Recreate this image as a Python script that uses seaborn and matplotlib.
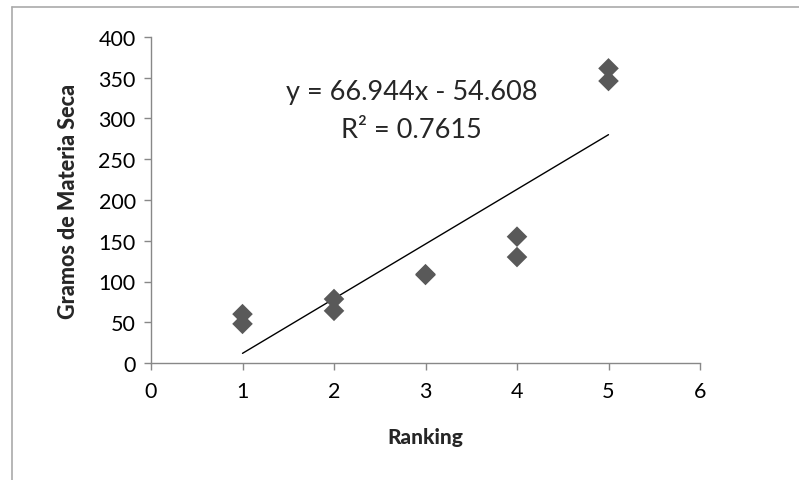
import matplotlib
matplotlib.use("Agg")
import matplotlib.pyplot as plt
import seaborn as sns
import pandas as pd
from matplotlib.lines import Line2D

ranking = [1, 1, 2, 2, 3, 3, 4, 4, 5, 5]
gramos = [60, 48, 78.5, 64, 108, 109, 155, 130, 361.5, 346]
x_ticks = [0, 1, 2, 3, 4, 5, 6]
y_ticks = [0, 50, 100, 150, 200, 250, 300, 350, 400]
equation = "y = 66.944x - 54.608"
r2_text = "R² = 0.7615"

sns.set_theme(style="white")
plt.rcParams['font.family'] = ['Lato', 'DejaVu Sans']

df = pd.DataFrame({"Ranking": ranking, "Gramos": gramos})

fig = plt.figure(figsize=(7.99, 4.81), dpi=100)
ax = fig.add_axes([151/799, 1 - 364/481, (700 - 151)/799, (364 - 38)/481])

sns.regplot(data=df, x="Ranking", y="Gramos", ax=ax, ci=None, truncate=True,
            marker="D",
            scatter_kws=dict(s=110, color="#595959", edgecolors="none", zorder=3, alpha=1),
            line_kws=dict(color="black", lw=1, zorder=2))

ax.set_xlim(0, 6)
ax.set_ylim(0, 400)
ax.set_xticks(x_ticks)
ax.set_yticks(y_ticks)
ax.tick_params(axis="both", labelsize=15.5, colors="#888888", labelcolor="black",
               length=5, width=1, direction="out", left=True, bottom=True)
ax.tick_params(axis="x", pad=8)
ax.tick_params(axis="y", pad=6)
for s in ["top", "right"]:
    ax.spines[s].set_visible(False)
for s in ["left", "bottom"]:
    ax.spines[s].set_color("#888888")
    ax.spines[s].set_linewidth(1)
ax.grid(False)

ax.set_xlabel("Ranking", fontsize=15, fontweight=900, labelpad=19)
ax.set_ylabel("Gramos de Materia Seca", fontsize=15.5, fontweight=900, labelpad=14)

ax.text(2.85, 333, equation, fontsize=19.5, ha="center", va="center")
ax.text(2.85, 286, r2_text, fontsize=19.5, ha="center", va="center")

# outer chart border
fig.add_artist(Line2D([11.5/799, 11.5/799], [0, 1 - 8/481], transform=fig.transFigure,
                      color="#aaaaaa", lw=1.2))
fig.add_artist(Line2D([11.5/799, 1], [1 - 8/481, 1 - 8/481], transform=fig.transFigure,
                      color="#aaaaaa", lw=1.2))

fig.savefig("out.png", dpi=100)
